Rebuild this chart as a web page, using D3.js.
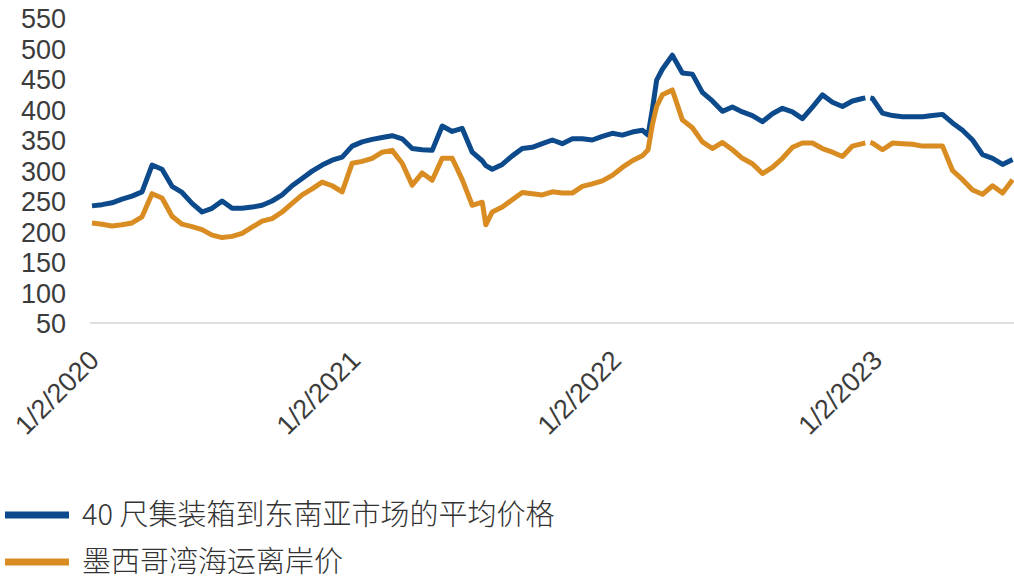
<!DOCTYPE html>
<html><head><meta charset="utf-8">
<script src="https://cdn.jsdelivr.net/npm/d3@7/dist/d3.min.js"></script>
<style>
html,body{margin:0;padding:0;background:#fff;}
svg{display:block;}
</style></head>
<body>
<svg id="chart" width="1014" height="584"></svg>
<script>
// Dates (bi-weekly samples plus a few extra points at sharp moves; null = gap)
const dates = [
"2020-01-02","2020-01-16","2020-01-30","2020-02-13","2020-02-27","2020-03-12","2020-03-26","2020-04-09","2020-04-23","2020-05-07",
"2020-05-21","2020-06-04","2020-06-18","2020-07-02","2020-07-16","2020-07-30","2020-08-13","2020-08-27","2020-09-10","2020-09-24",
"2020-10-08","2020-10-22","2020-11-05","2020-11-19","2020-12-03","2020-12-17","2020-12-31","2021-01-14","2021-01-28","2021-02-11",
"2021-02-25","2021-03-11","2021-03-25","2021-04-08","2021-04-22","2021-05-06","2021-05-20","2021-06-03","2021-06-17","2021-07-01",
"2021-07-06","2021-07-15","2021-07-29","2021-08-12","2021-08-26","2021-09-09","2021-09-23","2021-10-07","2021-10-21","2021-11-04",
"2021-11-18","2021-12-02","2021-12-16","2021-12-30","2022-01-13","2022-01-27","2022-02-10","2022-02-18","2022-02-24","2022-03-02",
"2022-03-10","2022-03-24","2022-04-07","2022-04-21","2022-05-05","2022-05-19","2022-06-02","2022-06-16","2022-06-30","2022-07-14",
"2022-07-28","2022-08-11","2022-08-25","2022-09-08","2022-09-22","2022-10-06","2022-10-20","2022-11-03","2022-11-17","2022-12-01",
"2022-12-15","2022-12-19","2022-12-22","2022-12-26","2022-12-29","2023-01-12","2023-01-26","2023-02-09","2023-02-23","2023-03-09",
"2023-03-23","2023-04-06","2023-04-20","2023-05-04","2023-05-18","2023-06-01","2023-06-15","2023-06-29","2023-07-13"
];
// 40 ft container to Southeast Asia, average price
const containerSEA = [
242,244,247,253,258,265,309,302,274,264,
246,232,238,250,238,238,240,243,250,260,
275,287,299,309,317,322,340,347,351,354,
357,352,336,334,333,373,364,369,330,316,
308,302,310,324,336,338,344,350,344,352,
352,350,356,361,358,363,366,358,400,448,
466,489,460,458,428,414,397,404,396,390,
380,393,402,396,385,404,424,412,405,414,
418,419,null,419,418,394,390,388,388,388,
390,392,378,366,350,326,320,310,318
];
// Gulf of Mexico FOB price
const gulfFOB = [
214,212,209,211,214,224,262,255,225,212,
208,203,194,190,192,197,207,217,221,232,
246,260,270,281,275,265,312,315,320,330,
333,312,276,296,284,320,320,285,243,248,
211,232,240,252,264,262,260,265,263,263,
274,278,283,292,305,316,324,334,375,405,
424,432,383,370,347,336,346,334,320,311,
295,305,320,338,345,345,336,330,323,340,
344,345,null,346,345,334,345,344,343,340,
340,340,300,285,268,261,275,263,285
];
const yTicks = [50,100,150,200,250,300,350,400,450,500,550];
const xTickDates = ["2020-01-02","2021-01-02","2022-01-02","2023-01-02"];
const seriesNames = ["40 尺集装箱到东南亚市场的平均价格","墨西哥湾海运离岸价"];
const seriesColors = ["#0d4a8b","#d88c22"];

const parse = d3.timeParse("%Y-%m-%d");
const svg = d3.select("#chart");

const x = d3.scaleTime()
  .domain([parse("2020-01-02"), parse("2023-07-15")])
  .range([92, 1014]);
const y = d3.scaleLinear().domain([50, 550]).range([323, 18]);

// Y axis labels
const yAxis = svg.append("g").attr("transform","translate(66,0)")
  .call(d3.axisLeft(y).tickValues(yTicks).tickSize(0).tickPadding(0));
yAxis.select(".domain").remove();
yAxis.selectAll("text")
  .attr("font-family","'Liberation Sans', Arial, sans-serif")
  .attr("font-size","27px").attr("fill","#3c3c3c").attr("dy","0.36em");

// X axis
const xAxis = svg.append("g").attr("transform","translate(0,323)")
  .call(d3.axisBottom(x).tickValues(xTickDates.map(parse))
    .tickFormat(d3.timeFormat("%-m/%-d/%Y")).tickSize(0).tickSizeOuter(0));
xAxis.select(".domain").remove();
xAxis.append("line").attr("x1",90).attr("x2",1014).attr("y1",0).attr("y2",0)
  .attr("stroke","#d4d4d4").attr("stroke-width",1.5);
xAxis.selectAll(".tick text")
  .attr("font-family","'Liberation Sans', Arial, sans-serif")
  .attr("font-size","27px").attr("fill","#3c3c3c")
  .attr("text-anchor","end").attr("y",0).attr("dy",0)
  .attr("transform","translate(8,39) rotate(-45)");

// Lines
const series = [containerSEA, gulfFOB];
const line = d3.line()
  .defined(d => d.v !== null)
  .x(d => x(d.date)).y(d => y(d.v));
series.forEach((vals, i) => {
  const data = dates.map((d, k) => ({date: parse(d), v: vals[k]}));
  svg.append("path").datum(data)
    .attr("fill","none").attr("stroke",seriesColors[i])
    .attr("stroke-width",5).attr("stroke-linejoin","round")
    .attr("d", line);
});

// Legend
const legY = [515, 562];
seriesNames.forEach((name, i) => {
  const g = svg.append("g").attr("transform",`translate(0,${legY[i]})`);
  g.append("line").attr("x1",5).attr("x2",69).attr("y1",0).attr("y2",0)
    .attr("stroke",seriesColors[i]).attr("stroke-width",7);
  g.append("text").attr("x",82).attr("y",0).attr("dy","0.36em")
    .attr("font-family","'Noto Sans CJK SC','Noto Sans', sans-serif")
    .attr("font-weight",300)
    .attr("font-size","29px").attr("fill","#333").text(name);
});
</script>
</body></html>
